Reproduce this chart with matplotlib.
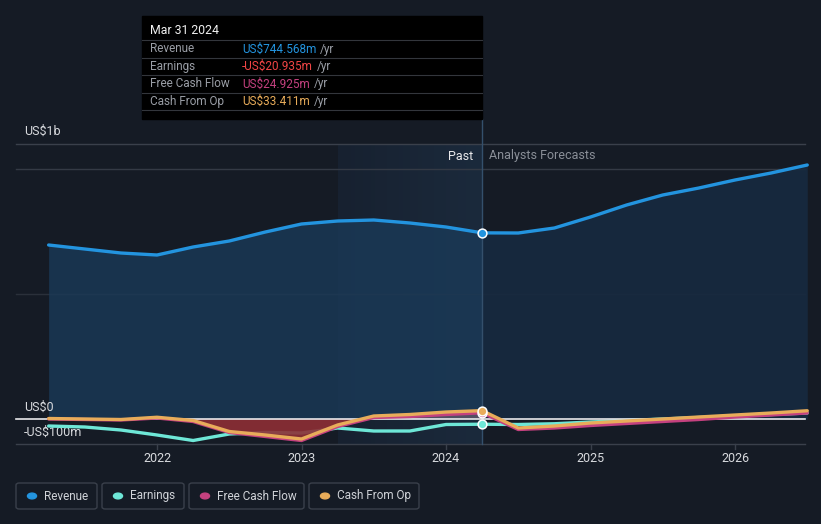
import matplotlib.pyplot as plt
from matplotlib.patches import Rectangle, FancyBboxPatch
import numpy as np

plt.rcParams['font.family'] = ['Roboto', 'DejaVu Sans']

# quarterly readings (US$ m)
past_t = [2021.25, 2021.5, 2021.75, 2022.0, 2022.25, 2022.5, 2022.75,
          2023.0, 2023.25, 2023.5, 2023.75, 2024.0, 2024.25]
fc_t = [2024.25, 2024.5, 2024.75, 2025.0, 2025.25, 2025.5, 2025.75,
        2026.0, 2026.25, 2026.5]

rev_past = [696, 680, 664, 656, 688, 712, 748, 780, 792, 796, 784, 768, 744.568]
rev_fc = [744.568, 744, 764, 808, 856, 896, 924, 956, 984, 1016]

earn_past = [-28, -32, -44, -64, -86, -60, -54, -56, -36, -48, -48, -22, -20.935]
earn_fc = [-20.935, -22, -19, -12, -6, 0, 6, 12, 18, 24]

fcf_past = [0, -2, -4, 4, -10, -54, -70, -86, -30, 6, 10, 18, 24.925]
fcf_fc = [24.925, -42, -36, -26, -18, -10, -2, 8, 16, 24]

cfo_past = [2, 0, -2, 7, -6, -50, -64, -80, -24, 12, 18, 28, 33.411]
cfo_fc = [33.411, -36, -28, -16, -8, 0, 8, 16, 24, 33]

years = [2022, 2023, 2024, 2025, 2026]

BG = '#151b25'
C_REV = '#2394df'
C_EARN = '#6ee7d7'
C_FCF = '#c4417f'
C_CFO = '#e8ac5a'

W, H = 821, 524
fig = plt.figure(figsize=(W / 100, H / 100), dpi=100, facecolor=BG)
ax = fig.add_axes([0, 0, 1, 1])
ax.set_facecolor(BG)
ax.axis('off')

# pixel mapping: x = 157 + (t-2022)*144.5 ; y = 419 - v/4
def px2t(px):
    return 2022 + (px - 157) / 144.5

def py2v(py):
    return (419 - py) * 4

ax.set_xlim(px2t(0), px2t(W))
ax.set_ylim(py2v(H), py2v(0))

x_left, x_right = px2t(16), px2t(805)
x_now = 2024.25

# highlighted band of last year (soft gradient from left to right)
grad = np.linspace(0, 1, 64).reshape(1, -1)
ax.imshow(grad, extent=[2023.25, x_now, py2v(444), py2v(144)], aspect='auto',
          cmap=plt.matplotlib.colors.LinearSegmentedColormap.from_list(
              'band', ['#172130', '#1b2a3c']), zorder=0.5, interpolation='bilinear')

# grid lines
for v, c in [(py2v(144), '#3a404b'), (1000, '#343a45'), (500, '#2a303a'),
             (-100, '#3a404b')]:
    ax.plot([x_left, x_right], [v, v], color=c, lw=1, zorder=1)

# revenue area
ax.fill_between(past_t, rev_past, 0, color='#1a3a58', alpha=0.8, lw=0, zorder=2)
ax.fill_between(fc_t, rev_fc, 0, color='#172a40', alpha=0.9, lw=0, zorder=2)

kw = dict(lw=2.4, solid_capstyle='round', solid_joinstyle='round')

# earnings under the cash fill
ax.plot(past_t, earn_past, color=C_EARN, zorder=4, **kw)
ax.plot(fc_t, earn_fc, color=C_EARN, zorder=4, **kw)

# cash flow fills
cfo_p = np.array(cfo_past)
ax.fill_between(past_t, cfo_p, 0, where=cfo_p <= 0, interpolate=True,
                color='#8e2f35', alpha=0.9, lw=0, zorder=4.5)
ax.fill_between(past_t, cfo_p, 0, where=cfo_p >= 0, interpolate=True,
                color='#7a6270', alpha=0.6, lw=0, zorder=4.5)

# zero line
ax.plot([x_left, x_right], [0, 0], color='#e8e8ea', lw=1.2, zorder=4.6)

# lines
ax.plot(past_t, rev_past, color=C_REV, zorder=5, **kw)
ax.plot(fc_t, rev_fc, color=C_REV, zorder=5, **kw)
ax.plot(past_t, fcf_past, color=C_FCF, zorder=5, **kw)
ax.plot(fc_t, fcf_fc, color=C_FCF, zorder=5, **kw)
ax.plot(past_t, cfo_past, color=C_CFO, zorder=5.1, **kw)
ax.plot(fc_t, cfo_fc, color=C_CFO, zorder=5.1, **kw)

# current marker line
ax.plot([x_now, x_now], [py2v(444), py2v(119)], color='#34506c', lw=1, zorder=4)
for val, c in [(rev_past[-1], C_REV), (earn_past[-1], C_EARN),
               (fcf_past[-1], C_FCF), (cfo_past[-1], C_CFO)]:
    ax.scatter([x_now], [val], s=40, color=c, edgecolor='white', lw=1.1, zorder=7)

# axis ticks
for y in years:
    ax.plot([y, y], [-100, py2v(449)], color='#3a404b', lw=1, zorder=1)
    ax.text(y, py2v(458), str(y), color='#d8dade', fontsize=9,
            ha='center', va='center', zorder=6)

# y labels
ax.text(px2t(24), py2v(131), 'US$1b', color='#d8dade', fontsize=9,
        ha='left', va='center')
ax.text(px2t(24), py2v(407), 'US$0', color='#d8dade', fontsize=9,
        ha='left', va='center')
ax.text(px2t(24), py2v(432), '-US$100m', color='#d8dade', fontsize=9,
        ha='left', va='center')

ax.text(px2t(473), py2v(156), 'Past', color='#e8e8ea', fontsize=9,
        ha='right', va='center')
ax.text(px2t(489), py2v(156), 'Analysts Forecasts', color='#8a8f98',
        fontsize=9, ha='left', va='center')

# tooltip box
def fx(px):
    return px / W

def fy(py):
    return 1 - py / H

fig.patches.append(Rectangle((fx(142), fy(119)), fx(482) - fx(142), fy(16) - fy(119),
                             transform=fig.transFigure, color='#000000', zorder=10))
fig.text(fx(150), fy(31), 'Mar 31 2024', color='#f0f0f0', fontsize=8.8, va='center',
         zorder=11)
rows = [('Revenue', 'US$744.568m', C_REV),
        ('Earnings', '-US$20.935m', '#f04545'),
        ('Free Cash Flow', 'US$24.925m', C_FCF),
        ('Cash From Op', 'US$33.411m', C_CFO)]
renderer = fig.canvas.get_renderer()
for i, (lab, val, c) in enumerate(rows):
    yy = 49 + i * 17.5
    fig.lines.append(plt.Line2D([fx(142), fx(482)], [fy(yy - 9), fy(yy - 9)],
                                transform=fig.transFigure, color='#33363c',
                                lw=0.8, zorder=11))
    fig.text(fx(150), fy(yy), lab, color='#9a9ea6', fontsize=8.5, va='center', zorder=11)
    t = fig.text(fx(242), fy(yy), val, color=c, fontsize=8.5, va='center', zorder=11)
    bb = t.get_window_extent(renderer)
    fig.text(fx(bb.x1 + 4), fy(yy), '/yr', color='#9a9ea6', fontsize=8.5,
             va='center', zorder=11)
fig.lines.append(plt.Line2D([fx(142), fx(482)], [fy(110), fy(110)],
                            transform=fig.transFigure, color='#33363c',
                            lw=0.8, zorder=11))

# legend boxes
legend = [('Revenue', C_REV, 16, 97), ('Earnings', C_EARN, 102, 184),
          ('Free Cash Flow', C_FCF, 189, 304), ('Cash From Op', C_CFO, 309, 419)]
for lab, c, x0, x1 in legend:
    fig.patches.append(FancyBboxPatch((fx(x0), fy(509)), fx(x1) - fx(x0), fy(483) - fy(509),
                                      boxstyle='round,pad=0,rounding_size=0.004',
                                      transform=fig.transFigure, fc='none',
                                      ec='#3a404b', lw=1))
    fig.patches.append(plt.Circle((fx(x0 + 16), fy(496)), 0.0055,
                                  transform=fig.transFigure, color=c))
    fig.text(fx(x0 + 28), fy(496), lab, color='#d0d3d8', fontsize=8.5, va='center')

fig.savefig('out.png', dpi=100, facecolor=BG)
